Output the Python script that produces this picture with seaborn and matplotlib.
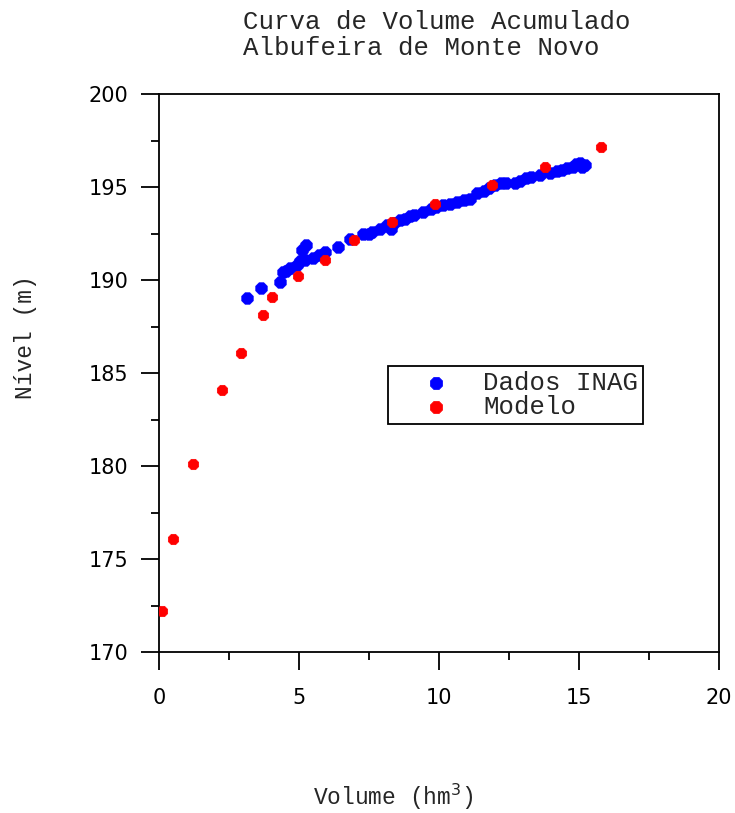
import matplotlib
matplotlib.use("Agg")
import matplotlib.pyplot as plt
import seaborn as sns
import pandas as pd
from matplotlib.ticker import MultipleLocator

# Data
inag_volume = [3.14, 3.64, 4.32, 4.43, 4.55, 4.68, 4.93, 5.05, 5.11, 5.2, 5.25, 5.5, 5.7, 5.93,
               6.39, 6.82, 7.29, 7.5, 7.6, 7.9, 8.14, 8.3, 8.4, 8.6, 8.8, 8.96, 9.1, 9.43, 9.7,
               9.9, 10.14, 10.4, 10.64, 10.9, 11.1, 11.36, 11.6, 11.8, 12.0, 12.2, 12.4, 12.7,
               12.9, 13.1, 13.3, 13.6, 13.96, 14.2, 14.4, 14.57, 14.8, 14.9, 15.04, 15.1, 15.2]
inag_nivel = [189.03, 189.57, 189.9, 190.43, 190.5, 190.65, 190.8, 191.0, 191.6, 191.1, 191.9, 191.2, 191.35, 191.5,
              191.8, 192.2, 192.5, 192.45, 192.6, 192.75, 192.95, 192.75, 193.05, 193.2, 193.3, 193.45, 193.5, 193.65, 193.8,
              193.9, 194.03, 194.1, 194.2, 194.3, 194.35, 194.7, 194.8, 194.95, 195.1, 195.2, 195.2, 195.2,
              195.3, 195.5, 195.55, 195.65, 195.75, 195.85, 195.9, 196.0, 196.1, 196.25, 196.3, 196.1, 196.2]

modelo_volume = [0.1, 0.5, 1.2, 2.25, 2.93, 3.71, 4.04, 4.96, 5.93, 6.96, 8.32, 9.86, 11.9, 13.8, 15.8]
modelo_nivel = [172.2, 176.1, 180.1, 184.1, 186.1, 188.1, 189.1, 190.2, 191.1, 192.15, 193.1, 194.1, 195.1, 196.1, 197.15]

df_inag = pd.DataFrame({"Volume": inag_volume, "Nivel": inag_nivel})
df_mod = pd.DataFrame({"Volume": modelo_volume, "Nivel": modelo_nivel})

sns.set_style("white")
plt.rcParams['font.family'] = ['Liberation Mono', 'DejaVu Sans']

fig = plt.figure(figsize=(7.35, 8.13), dpi=100)
ax = fig.add_axes([159/735, 1-652/813, 560/735, 558/813])

sns.scatterplot(data=df_inag, x="Volume", y="Nivel", ax=ax, color="#0000FF", marker="8",
                s=80, edgecolor="#0000FF", linewidth=0.5, label="Dados INAG", zorder=3)
sns.scatterplot(data=df_mod, x="Volume", y="Nivel", ax=ax, color="#FF0000", marker="8",
                s=65, edgecolor="#FF0000", linewidth=0.5, label="Modelo", zorder=4)

ax.set_xlim(0, 20)
ax.set_ylim(170, 200)
ax.xaxis.set_major_locator(MultipleLocator(5))
ax.xaxis.set_minor_locator(MultipleLocator(2.5))
ax.yaxis.set_major_locator(MultipleLocator(5))
ax.yaxis.set_minor_locator(MultipleLocator(2.5))

for sp in ax.spines.values():
    sp.set_visible(True)
    sp.set_color("black")
    sp.set_linewidth(1.3)

ax.tick_params(which="major", direction="out", length=13, width=1.3, color="black",
               bottom=True, left=True, top=False, right=False)
ax.tick_params(which="minor", direction="out", length=6, width=1.3, color="black",
               bottom=True, left=True, top=False, right=False)
ax.tick_params(axis="x", which="major", pad=13)
ax.tick_params(axis="y", which="major", pad=9)
for lab in ax.get_xticklabels() + ax.get_yticklabels():
    lab.set_fontfamily("DejaVu Sans")
    lab.set_fontsize(15)
    lab.set_color("black")

ax.set_xlabel("Volume (hm$^3$)", fontsize=16.5, family="Liberation Mono")
ax.set_ylabel("Nível (m)", fontsize=16.5, family="Liberation Mono")
ax.xaxis.set_label_coords(0.418, -0.232)
ax.yaxis.set_label_coords(-0.218, 0.565)

fig.text(243/735, 1-10/813, "Curva de Volume Acumulado\nAlbufeira de Monte Novo",
         ha="left", va="top", fontsize=18.5, family="Liberation Mono", linespacing=1.12)

leg = ax.legend(loc="upper left", bbox_to_anchor=((388-159)/560, (652-366)/558),
                frameon=True, fancybox=False, framealpha=1, edgecolor="black",
                fontsize=18.5, handletextpad=0.2, borderpad=0.2, labelspacing=0.0,
                handlelength=3.3, borderaxespad=0)
leg.get_frame().set_linewidth(1.3)
for h in leg.legend_handles:
    h.set_sizes([90])

fig.savefig("out.png", dpi=100)
